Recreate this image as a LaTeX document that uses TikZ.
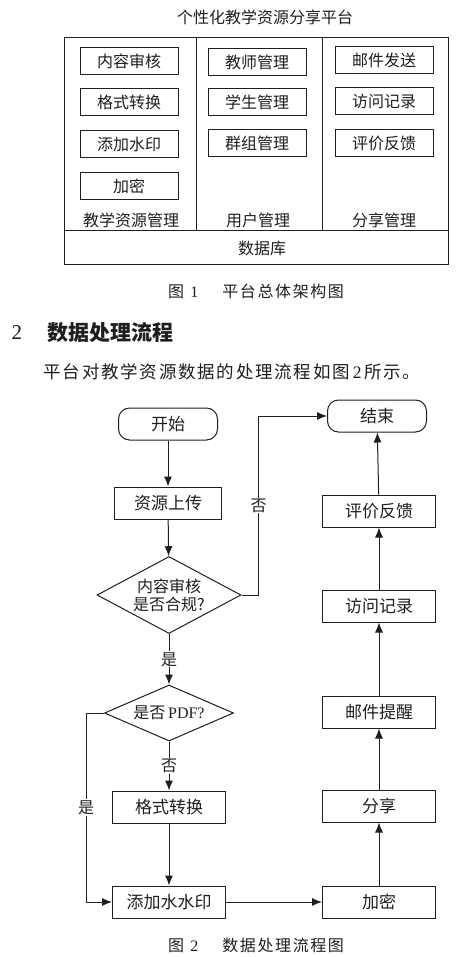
\documentclass[tikz,border=0pt]{standalone}
\usepackage{fontspec}
\setmainfont{Noto Sans CJK SC}
\newfontfamily\latin{Liberation Serif}
\newfontfamily\spaced[LetterSpace=10]{Noto Sans CJK SC}
\usetikzlibrary{shapes.geometric,arrows.meta}
\definecolor{inkblack}{RGB}{30,30,30}

\tikzset{
  modbox/.style={draw=inkblack, line width=1pt, minimum width=98pt, minimum height=27pt, inner sep=0pt, font=\fontsize{16}{18}\selectfont},
  grouplabel/.style={inner sep=0pt, font=\fontsize{16}{18}\selectfont},
  flowbox/.style={draw=inkblack, line width=1pt, minimum width=113pt, minimum height=32pt, inner sep=0pt, font=\fontsize{17}{19}\selectfont},
  termbox/.style={flowbox, rounded corners=11pt, minimum width=99pt},
  decision/.style={draw=inkblack, diamond, line width=1pt, inner sep=0pt, align=center, font=\fontsize{16}{18}\selectfont},
  arr/.style={draw=inkblack, line width=1pt, -{Latex[length=10pt,width=8pt]}},
  yn/.style={fill=white, inner sep=1pt, font=\fontsize{16}{18}\selectfont},
}

\begin{document}
\begin{tikzpicture}[x=1pt, y=-1pt, text=inkblack]
\useasboundingbox (0,0) rectangle (457,957);

% figure 1: platform architecture
\node[grouplabel] (platform) at (265,17) {个性化教学资源分享平台};
\draw[inkblack, line width=1pt] (64,38) rectangle (448,265);
\draw[inkblack, line width=1pt] (64,231) -- (448,231);
\draw[inkblack, line width=1pt] (196,38) -- (196,231);
\draw[inkblack, line width=1pt] (322,38) -- (322,231);

\node[modbox] (audit)   at (129,61)  {内容审核};
\node[modbox] (format)  at (129,102) {格式转换};
\node[modbox] (mark)    at (129,144) {添加水印};
\node[modbox] (crypt)   at (129,186) {加密};
\node[modbox] (teacher) at (257,62)  {教师管理};
\node[modbox] (student) at (257,102) {学生管理};
\node[modbox] (group)   at (257,143) {群组管理};
\node[modbox] (mail)    at (384,60)  {邮件发送};
\node[modbox] (visits)  at (384,101) {访问记录};
\node[modbox] (review)  at (384,143) {评价反馈};

\node[grouplabel] (resmgr)   at (131,220) {教学资源管理};
\node[grouplabel] (usermgr)  at (258,220) {用户管理};
\node[grouplabel] (sharemgr) at (384,220) {分享管理};
\node[grouplabel] (db)       at (262,248) {数据库};

\node[inner sep=0pt, font=\fontsize{16}{18}\spaced] (cap1) at (256,291) {图\hspace{0.4em}{\latin 1}\hspace{1.5em}平台总体架构图};

% section text
\node[inner sep=0pt, font=\fontsize{21}{23}\latin] (secno) at (17,333) {2};
\node[inner sep=0pt, font=\fontsize{21}{23}\selectfont\bfseries] (sectitle) at (110,333) {数据处理流程};
\node[inner sep=0pt, font=\fontsize{17.5}{20}\spaced] (body) at (232,372) {平台对教学资源数据的处理流程如图\,{\latin 2}\,所示。};

% figure 2: data processing flow
\node[termbox] (start) at (168,424) {开始};
\node[termbox] (stop)  at (377,416) {结束};
\node[flowbox, minimum width=107pt] (upload) at (168,503) {资源上传};
\node[decision, aspect=1.9, minimum width=144pt, minimum height=77pt] (check) at (169,595) {内容审核\\是否合规?};
\node[decision, aspect=2.3, minimum width=129pt, minimum height=56pt] (ispdf) at (169,713) {是否\,{\latin PDF?}};
\node[flowbox] (convert)   at (169,807) {格式转换};
\node[flowbox] (watermark) at (169,902) {添加水水印};
\node[flowbox] (encrypt)   at (379,902) {加密};
\node[flowbox] (share)     at (379,806) {分享};
\node[flowbox] (remind)    at (379,712) {邮件提醒};
\node[flowbox] (visit)     at (379,606) {访问记录};
\node[flowbox] (feedback)  at (379,511) {评价反馈};

\draw[arr] (start) -- (upload);
\draw[arr] (upload) -- (check);
\draw[arr] (check) -- node[yn] {是} (ispdf);
\draw[arr] (check.east) -- ++(17,0) |- node[yn, pos=0.25] {否} (stop.west);
\draw[arr] (ispdf) -- node[yn] {否} (convert);
\draw[arr] (ispdf.west) -- ++(-18,0) |- node[yn, pos=0.25] {是} (watermark.west);
\draw[arr] (convert) -- (watermark);
\draw[arr] (watermark) -- (encrypt);
\draw[arr] (encrypt) -- (share);
\draw[arr] (share) -- (remind);
\draw[arr] (remind) -- (visit);
\draw[arr] (visit) -- (feedback);
\draw[arr] (feedback) -- (stop);

\node[inner sep=0pt, font=\fontsize{16}{18}\spaced] (cap2) at (256,945) {图\hspace{0.4em}{\latin 2}\hspace{1.5em}数据处理流程图};
\end{tikzpicture}
\end{document}
